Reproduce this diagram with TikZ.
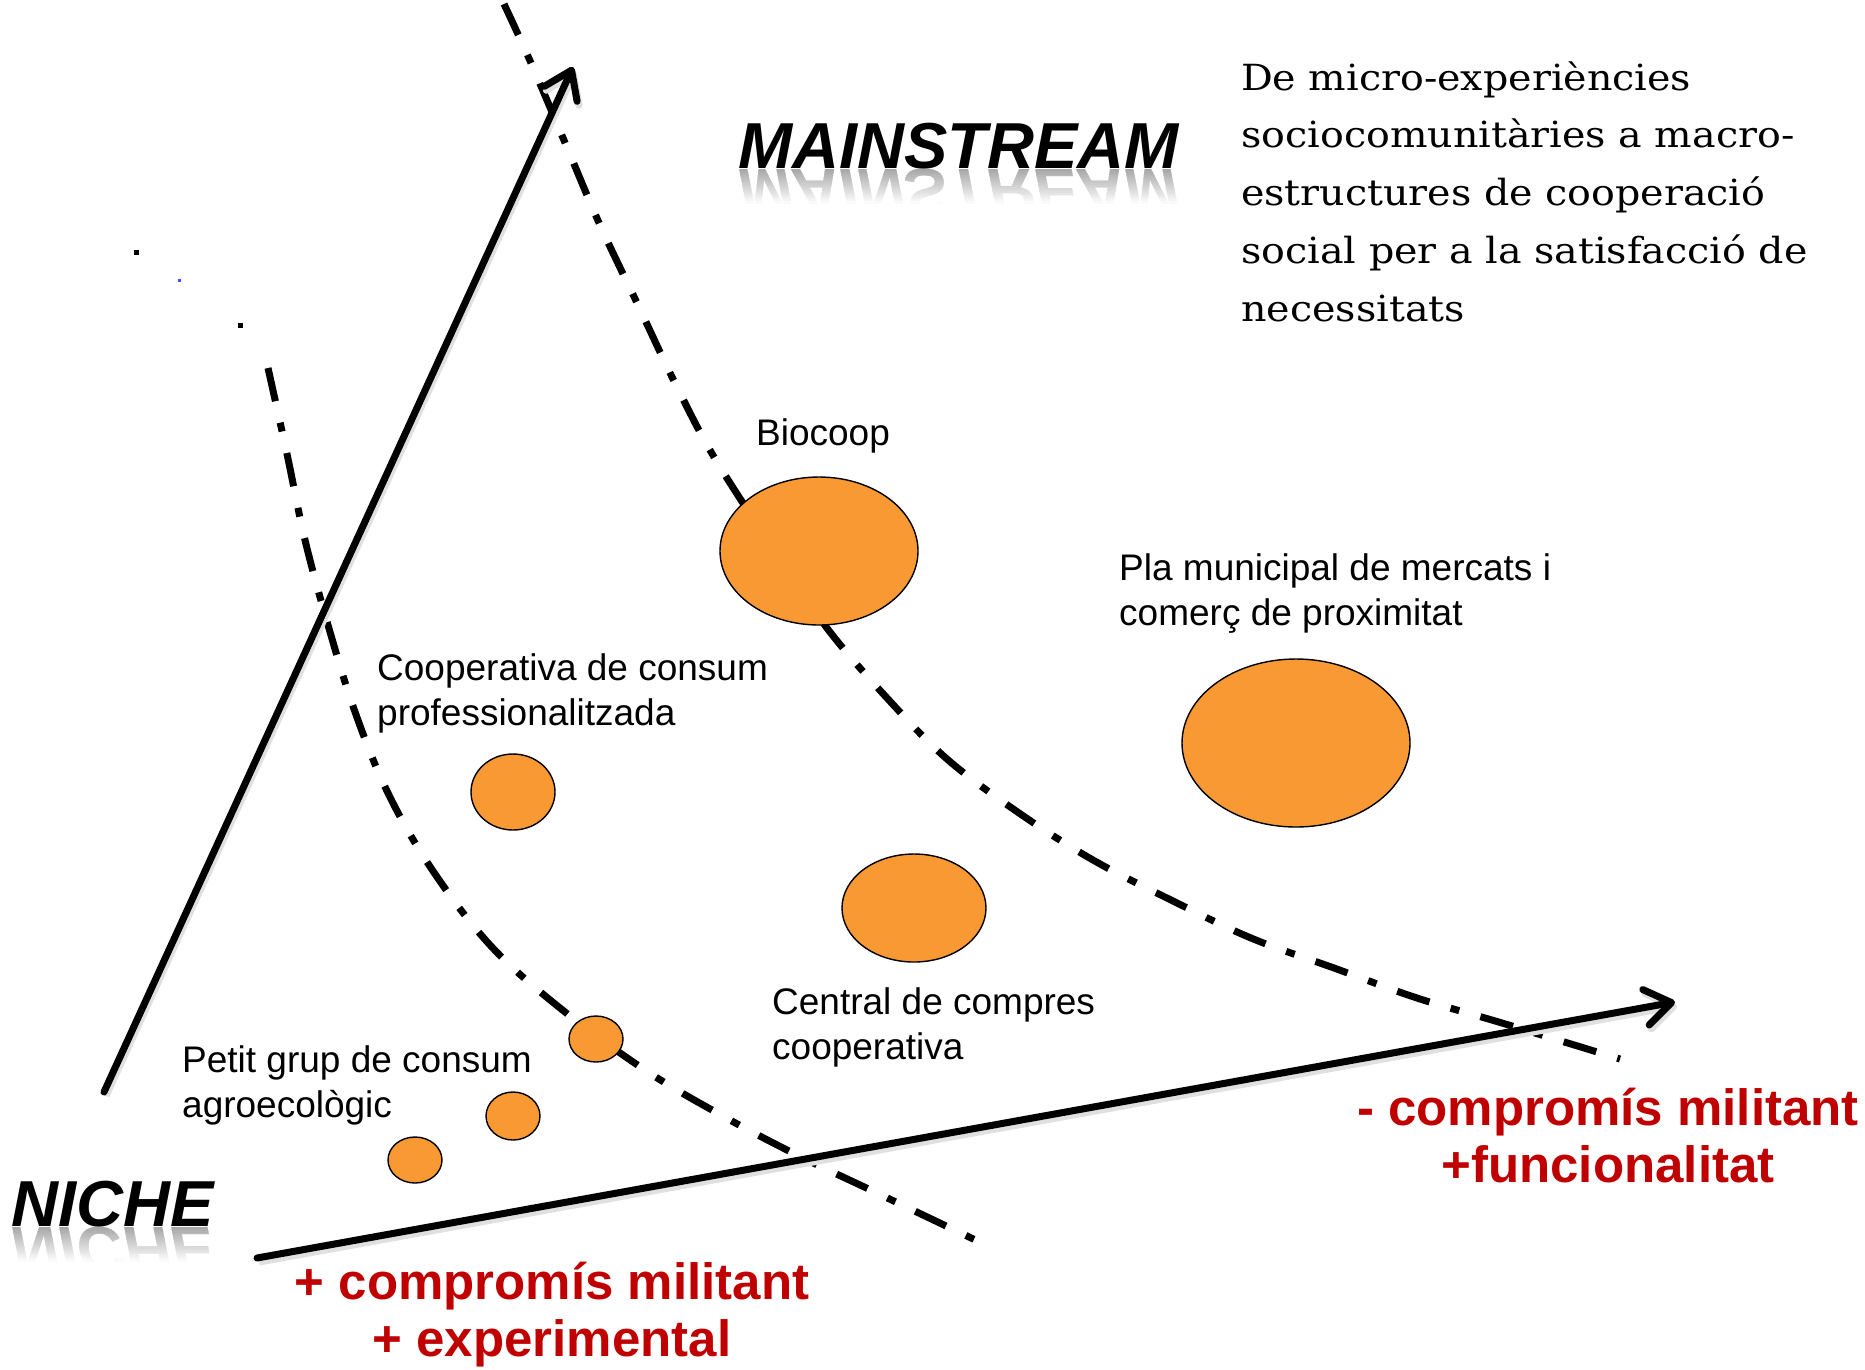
\documentclass[tikz,border=0pt]{standalone}
\usepackage{fontspec}
\usepackage{graphicx}
\setmainfont{Liberation Sans}
\newfontfamily\lletraserif[FakeStretch=1.1]{DejaVu Serif}
\usetikzlibrary{arrows.meta,shapes.geometric}
\definecolor{taronja}{RGB}{249,153,52}
\definecolor{vermell}{RGB}{192,0,0}
\tikzset{
  eix/.style={line width=7pt, line cap=round, -{Straight Barb[length=26pt,width=36pt,round]},
    preaction={draw=black!12, line width=7pt, transform canvas={shift={(2pt,-4pt)}}}},
  frontera/.style={line width=7pt, dash pattern=on 34pt off 22pt on 9pt off 22pt},
  bola/.style={ellipse, draw, line width=1.4pt, fill=taronja, inner sep=0pt},
  etiqueta/.style={anchor=base west, inner sep=0pt, align=left, font=\fontsize{37}{45}\selectfont},
  vermella/.style={anchor=base, inner sep=0pt, align=center, text=vermell, font=\bfseries\fontsize{51}{57}\selectfont},
  titol/.style={anchor=base west, inner sep=0pt, font=\bfseries\itshape\fontsize{65}{70}\selectfont},
}
\begin{document}
\begin{tikzpicture}
			\useasboundingbox (0pt,0pt) rectangle (1865pt,-1369pt);
			\coordinate (nicheO) at (104pt,-1092pt);
			\coordinate (nicheT) at (573pt,-67pt);
			\coordinate (funcO) at (257pt,-1258pt);
			\coordinate (funcT) at (1675pt,-1002pt);
			\draw[frontera] plot[smooth, tension=0.6] coordinates {(504pt,-4pt) (531pt,-63pt) (566pt,-145pt) (600pt,-225pt) (638pt,-305pt) (676pt,-385pt) (717pt,-462pt) (786pt,-568pt) (830pt,-632pt) (887pt,-698pt) (947pt,-759pt) (1019pt,-813pt) (1093pt,-860pt) (1171pt,-900pt) (1251pt,-938pt) (1334pt,-968pt) (1417pt,-998pt) (1502pt,-1023pt) (1620pt,-1059pt)};
			\draw[frontera] plot[smooth, tension=0.6] coordinates {(268pt,-368pt) (287pt,-454pt) (305pt,-540pt) (328pt,-625pt) (354pt,-709pt) (387pt,-791pt) (431pt,-868pt) (490pt,-945pt) (560pt,-1008pt) (645pt,-1070pt) (721pt,-1115pt) (797pt,-1155pt) (877pt,-1193pt) (990pt,-1247pt)};
			\fill (134pt,-250pt) rectangle (139pt,-255pt);
			\fill (238pt,-323pt) rectangle (243pt,-328pt);
			\fill[blue!70] (178pt,-279pt) rectangle (181pt,-282pt);
			\draw[eix] (nicheO) -- (nicheT);
			\draw[eix] (funcO) -- (funcT);
			\node[bola, minimum width=198pt, minimum height=148pt] (biocoopB) at (819pt,-551pt) {};
			\node[bola, minimum width=228pt, minimum height=168pt] (plaB) at (1296pt,-743pt) {};
			\node[bola, minimum width=144pt, minimum height=108pt] (centralB) at (914pt,-908pt) {};
			\node[bola, minimum width=84pt, minimum height=76pt] (coopB) at (513pt,-792pt) {};
			\node[bola, minimum width=54pt, minimum height=46pt] (petitB1) at (596pt,-1039pt) {};
			\node[bola, minimum width=54pt, minimum height=48pt] (petitB2) at (513pt,-1116pt) {};
			\node[bola, minimum width=54pt, minimum height=46pt] (petitB3) at (415pt,-1160pt) {};
			\node[etiqueta] (biocoop) at (756pt,-445pt) {Biocoop};
			\node[etiqueta] (pla) at (1119pt,-625pt) {Pla municipal de mercats i\\comerç de proximitat};
			\node[etiqueta] (coop) at (377pt,-725pt) {Cooperativa de consum\\professionalitzada};
			\node[etiqueta] (central) at (772pt,-1059pt) {Central de compres\\cooperativa};
			\node[etiqueta] (petit) at (182pt,-1117pt) {Petit grup de consum\\agroecològic};
			\node[titol] (mainstream) at (738pt,-168pt) {MAINSTREAM};
			\node[titol] (niche) at (11pt,-1226pt) {NICHE};
			\foreach \i in {0,...,16} {
				\pgfmathtruncatemacro\tono{34-2*\i}
				\begin{scope}
					\clip (700pt,{-169pt-2pt*\i}) rectangle (1200pt,{-171.2pt-2pt*\i});
					\node[titol, text=black!\tono] (reflexM\i) at (738pt,-169pt) {\scalebox{1}[-1]{MAINSTREAM}};
				\end{scope}
				\begin{scope}
					\clip (0pt,{-1227pt-2pt*\i}) rectangle (230pt,{-1229.2pt-2pt*\i});
					\node[titol, text=black!\tono] (reflexN\i) at (11pt,-1227pt) {\scalebox{1}[-1]{NICHE}};
				\end{scope}
			}
			\node[anchor=base west, inner sep=0pt, align=left, font=\lletraserif\fontsize{36}{57.7}\selectfont] (lema) at (1241pt,-321pt) {De micro-experiències\\sociocomunitàries a macro-\\estructures de cooperació\\social per a la satisfacció de\\necessitats};
			\node[vermella] (mesmilitant) at (552pt,-1356pt) {+ compromís militant\\+ experimental};
			\node[vermella] (menysmilitant) at (1608pt,-1182pt) {- compromís militant\\+funcionalitat};
		\end{tikzpicture}
\end{document}
